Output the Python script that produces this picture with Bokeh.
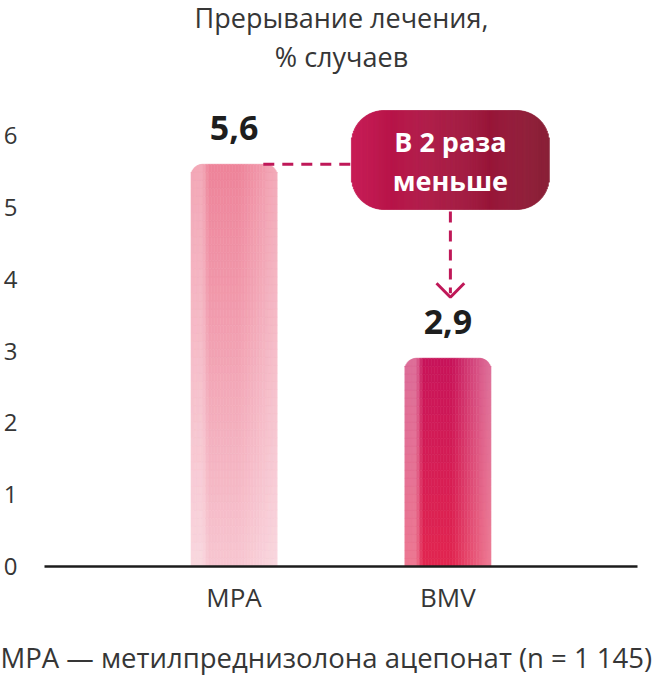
import numpy as np
from bokeh.plotting import figure
from bokeh.models import Range1d, FixedTicker, Label, ColumnDataSource, Title
from bokeh.embed import file_html
from bokeh.resources import INLINE
from bokeh.core.properties import value

# ---------------- data ----------------
categories = ["MPA", "BMV"]
rates = [5.6, 2.9]
rate_labels = ["5,6", "2,9"]
y_ticks = [0, 1, 2, 3, 4, 5, 6]
title_lines = ["Прерывание лечения,", "% случаев"]
callout_lines = ["В 2 раза", "меньше"]
footnote = "MPA — метилпреднизолона ацепонат (n = 1 145)"

# ---------------- layout (figure pixels) ----------------
W, H = 655, 677
FRAME_L, FRAME_R = 38, 637          # px
BASE_Y = 566                        # px of value 0
PXU_Y = 71.83                       # px per unit of y
PXU_X = 216.0                       # px per category step
X0 = -0.8866
X1 = X0 + (FRAME_R - FRAME_L) / PXU_X
Y1 = BASE_Y / PXU_Y
BAR_W_PX = 87.0
BAR_R_PX = 12.0

def px2x(sx):
    return X0 + (sx - FRAME_L) / PXU_X

def px2y(sy):
    return (BASE_Y - sy) / PXU_Y

def hexrgb(h):
    return np.array([int(h[i:i + 2], 16) for i in (1, 3, 5)], float)

def tohex(c):
    c = np.clip(np.round(c), 0, 255).astype(int)
    return "#%02x%02x%02x" % tuple(c)

WHITE = np.array([255.0, 255.0, 255.0])

def edge_profile(u, el, er):
    if u < 0.14:
        return el
    if u < 0.21:
        return el * (0.21 - u) / 0.07
    if u < 0.55:
        return 0.0
    return er * (u - 0.55) / 0.45

def bar_cells(xi, val, top_hex, bot_hex, el, er, nrows):
    top_c, bot_c = hexrgb(top_hex), hexrgb(bot_hex)
    edges = np.unique(np.concatenate([np.arange(0, 13, 1.0),
                                      np.arange(12, 76, 3.0),
                                      np.arange(75, BAR_W_PX + 0.5, 1.0)]))
    height_px = val * PXU_Y
    rows = np.linspace(0, height_px, nrows + 1)
    L, R, T, B, C = [], [], [], [], []
    left0 = xi - BAR_W_PX / 2 / PXU_X
    for j in range(len(edges) - 1):
        l, r = edges[j], edges[j + 1]
        cx = (l + r) / 2
        d = min(cx, BAR_W_PX - cx)
        drop = BAR_R_PX - np.sqrt(BAR_R_PX ** 2 - (BAR_R_PX - d) ** 2) if d < BAR_R_PX else 0.0
        w = edge_profile(cx / BAR_W_PX, el, er)
        for i in range(nrows):
            b, t = rows[i], rows[i + 1]
            if i == nrows - 1:
                t = t - drop
            v = (b + t) / 2 / height_px
            c = bot_c * (1 - v) + top_c * v
            c = c * (1 - w) + WHITE * w
            L.append(left0 + l / PXU_X)
            R.append(left0 + r / PXU_X)
            B.append(b / PXU_Y)
            T.append(t / PXU_Y)
            C.append(tohex(c))
    return dict(left=L, right=R, top=T, bottom=B, color=C)

p = figure(width=W, height=H, x_range=Range1d(X0, X1), y_range=Range1d(0, Y1),
           output_backend="svg", toolbar_location=None,
           min_border_left=FRAME_L, min_border_right=W - FRAME_R,
           min_border_top=0, min_border_bottom=H - BASE_Y)
p.background_fill_color = "white"
p.border_fill_color = "white"
p.outline_line_color = None
p.xgrid.visible = False
p.ygrid.visible = False

TXT_C = "#363636"
# axes
p.xaxis.ticker = FixedTicker(ticks=list(range(len(categories))))
p.xaxis.major_label_overrides = {i: c for i, c in enumerate(categories)}
p.xaxis.major_tick_line_color = None
p.xaxis.minor_tick_line_color = None
p.xaxis.axis_line_color = "#1c1c1c"
p.xaxis.axis_line_width = 2.5
p.xaxis.major_label_standoff = 6
p.xaxis.major_label_text_font = "Open Sans"
p.xaxis.major_label_text_font_size = "26px"
p.xaxis.major_label_text_color = TXT_C

p.yaxis.ticker = FixedTicker(ticks=y_ticks)
p.yaxis.axis_line_color = None
p.yaxis.major_tick_line_color = None
p.yaxis.minor_tick_line_color = None
p.yaxis.major_label_standoff = 21
p.yaxis.major_label_text_font = "Open Sans"
p.yaxis.major_label_text_font_size = "24px"
p.yaxis.major_label_text_color = TXT_C

# gradient bars
styles = [("#ee8399", "#f7c6d1", 0.30, 0.30, 50),
          ("#c8145a", "#e22650", 0.36, 0.40, 26)]
for i, (v, st) in enumerate(zip(rates, styles)):
    src = ColumnDataSource(bar_cells(i, v, *st))
    p.quad(left="left", right="right", top="top", bottom="bottom", source=src,
           fill_color="color", line_color="color", line_width=0.6)

# value labels
p.text(x=list(range(len(categories))), y=rates, text=rate_labels,
       text_align="center", text_baseline="middle", y_offset=-36,
       text_font=value("Open Sans"), text_font_style="bold",
       text_font_size="34px", text_color="#1e1e1e")

# callout box (rounded, horizontal gradient)
BOX_L, BOX_R, BOX_T, BOX_B, BOX_RAD = 348, 548, 110, 209, 33.0
bl, br = hexrgb("#c5134f"), hexrgb("#85172f")
BL, BR, BT, BB, BC = [], [], [], [], []
for sx in np.arange(BOX_L, BOX_R, 1.0):
    cx = sx + 0.5
    d = min(cx - BOX_L, BOX_R - cx)
    drop = BOX_RAD - np.sqrt(BOX_RAD ** 2 - (BOX_RAD - d) ** 2) if d < BOX_RAD else 0.0
    u = (cx - BOX_L) / (BOX_R - BOX_L)
    BL.append(px2x(sx)); BR.append(px2x(sx + 1))
    BT.append(px2y(BOX_T + drop)); BB.append(px2y(BOX_B - drop))
    BC.append(tohex(bl * (1 - u) + br * u))
p.quad(left=BL, right=BR, top=BT, bottom=BB, fill_color=BC, line_color=BC, line_width=0.6)

p.text(x=[px2x(448)] * 2, y=[px2y(141), px2y(180)], text=callout_lines,
       text_align="center", text_baseline="middle",
       text_font=value("Open Sans"), text_font_style="bold",
       text_font_size="27px", text_color="white")

# dashed connectors
DASH_C = "#bf1858"
p.segment(x0=[0 + (BAR_W_PX / 2 - 14) / PXU_X], y0=[rates[0]],
          x1=[px2x(BOX_L)], y1=[rates[0]],
          line_color=DASH_C, line_width=3, line_dash="11 8")
tip_y = rates[1] + 61 / PXU_Y
p.segment(x0=[px2x(448)], y0=[px2y(BOX_B + 2)], x1=[px2x(448)], y1=[tip_y + 4 / PXU_Y],
          line_color=DASH_C, line_width=3, line_dash="11 8")
p.line(x=[px2x(448 - 14), px2x(448), px2x(448 + 14)],
       y=[tip_y + 14 / PXU_Y, tip_y, tip_y + 14 / PXU_Y],
       line_color=DASH_C, line_width=3)

# title
cx_title = px2x(338)
for line, sy in zip(title_lines, [17, 56]):
    p.add_layout(Label(x=cx_title, y=px2y(sy), text=line, text_align="center",
                       text_baseline="middle", text_font="Open Sans",
                       text_font_size="27px", text_color=TXT_C))

# spacer + footnote (below the x axis)
p.add_layout(Title(text=" ", standoff=16, text_font_size="1px"), "below")
p.add_layout(Title(text=footnote, align="left", offset=-(FRAME_L + 6), standoff=0,
                   text_font="Open Sans", text_font_style="normal",
                   text_font_size="27.5px", text_color=TXT_C), "below")

open("out.html", "w").write(file_html(p, INLINE))
